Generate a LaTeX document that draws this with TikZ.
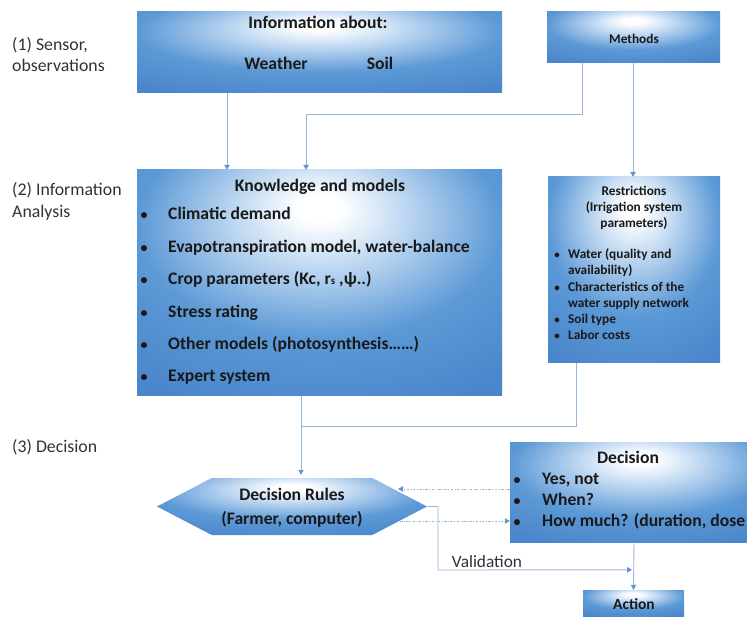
\documentclass[tikz,border=0pt]{standalone}
\usepackage{fontspec}
\setmainfont{Carlito}
\usetikzlibrary{arrows.meta,calc,shapes.symbols}
\definecolor{bblue}{RGB}{92,153,214}
\definecolor{bdark}{RGB}{74,134,203}
\definecolor{blight}{RGB}{196,219,243}
\definecolor{conncol}{RGB}{150,182,216}
\definecolor{tipcol}{RGB}{100,148,204}
\definecolor{txt}{RGB}{25,25,25}
\definecolor{lbl}{RGB}{50,50,50}
\pgfdeclareradialshading{boxshade}{\pgfpoint{0bp}{17bp}}{color(0bp)=(white); color(3bp)=(white); color(11bp)=(blight); color(25bp)=(bblue); color(40bp)=(bdark); color(100bp)=(bdark)}
\tikzset{
  box/.style={shade, shading=boxshade, draw=none, inner sep=0pt},
  conn/.style={draw=conncol, line width=0.9pt},
  arr/.style={conn, -{Triangle[width=5.5pt,length=5pt,color=tipcol,fill=tipcol]}},
  dotarr/.style={arr, dash pattern=on 2.5pt off 1.5pt on 0.8pt off 1.5pt},
  bigtxt/.style={font=\fontsize{17.6}{20}\selectfont\bfseries, text=txt, inner sep=0pt, text height=0.7em, text depth=0.2em, yshift=-4pt},
  smalltxt/.style={font=\fontsize{13.3}{16}\selectfont\bfseries, text=txt, inner sep=0pt, text height=0.7em, text depth=0.2em, yshift=-3pt},
  sidetxt/.style={font=\fontsize{17.8}{20}\selectfont, text=lbl, inner sep=0pt, anchor=west, text height=0.7em, text depth=0.2em, yshift=-3.5pt},
}
\begin{document}
\begin{tikzpicture}[x=1pt,y=-1pt]
\path[use as bounding box] (0,0) rectangle (747,617);
\clip (0,0) rectangle (747,617);
% boxes
\node[box, minimum width=365pt, minimum height=81pt] (info) at (319.5,52.5) {};
\node[box, minimum width=173pt, minimum height=51pt] (meth) at (633.5,37.5) {};
\node[box, minimum width=365pt, minimum height=226pt] (know) at (319.5,283) {};
\node[box, minimum width=172pt, minimum height=186pt] (restr) at (634,270) {};
\node[box, minimum width=260pt, minimum height=100pt] (dec) at (640,492) {};
\node[box, minimum width=101pt, minimum height=26pt] (act) at (633.5,603) {};
\node[box, signal, signal to=west and east, signal pointer angle=55, minimum width=270pt, minimum height=57pt] (rules) at (292,506.5) {};
% connectors
\coordinate (m1) at (582,114);
\coordinate (j1) at (576,426);
\coordinate (k1) at (301,426);
\draw[arr] ($(info.south)+(-92.5,0)$) -- ($(know.north)+(-92.5,0)$);
\draw[arr] ($(meth.south)+(-51.5,0)$) -- (m1) -| ($(know.north)+(-13.5,0)$);
\draw[arr] ($(meth.south)+(-0.5,0)$) -- ($(restr.north)+(-1,0)$);
\draw[arr] ($(know.south)+(-18.5,0)$) -- ($(rules.north)+(9,-3)$);
\draw[conn] (restr.south -| j1) -- (j1) -- (k1);
\draw[dotarr] ($(dec.west)+(0,-3)$) -- (398,489);
\draw[dotarr] (400,521) -- ($(dec.west)+(0,29)$);
\coordinate (v1) at (438,570);
\draw[arr] (rules.east) -| (v1) -- ($(act.north)+(-1.5,-20)$);
\draw[arr] ($(dec.south)+(-6,0)$) -- (act.north);
\node[sidetxt, anchor=center, font=\fontsize{17.3}{20}\selectfont] (valid) at (487,561) {Validation};
% texts: info
\node[bigtxt] (infot) at (318,22) {Information about:};
\node[bigtxt] (weather) at (276,63) {Weather};
\node[bigtxt] (soil) at (380,63) {Soil};
\node[smalltxt] (metht) at (634,38) {Methods};
% knowledge
\node[bigtxt] (knowt) at (320,185) {Knowledge and models};
\foreach \yy/\tt [count=\i] in {213/Climatic demand, 246/{Evapotranspiration model, water-balance}, 278/{Crop parameters (Kc, r{\fontsize{11}{11}\selectfont s} ,ψ..)}, 311/Stress rating, 343/{Other models (photosynthesis……)}, 375/Expert system}{
  \node[bigtxt, font=\fontsize{14}{16}\selectfont\bfseries] (kb\i) at (144,\yy) {•};
  \node[bigtxt, anchor=west] (kt\i) at (168,\yy) {\tt};
}
% restrictions
\node[smalltxt] (restrt1) at (634,190) {Restrictions};
\node[smalltxt] (restrt2) at (634,206) {(Irrigation system};
\node[smalltxt] (restrt3) at (634,222) {parameters)};
\foreach \yy [count=\i] in {253, 286, 318, 334}{
  \node[smalltxt, font=\fontsize{11}{13}\selectfont\bfseries] (rb\i) at (557,\yy) {•};
}
\foreach \yy/\tt [count=\i] in {253/{Water (quality and}, 269/{availability)}, 286/{Characteristics of the}, 302/{water supply network}, 318/Soil type, 334/Labor costs}{
  \node[smalltxt, anchor=west] (rt\i) at (568,\yy) {\tt};
}
% decision
\node[bigtxt] (dect) at (628,457) {Decision};
\foreach \yy/\tt [count=\i] in {478/{Yes, not}, 499/When?, 520/{How much? (duration, dose}}{
  \node[bigtxt, font=\fontsize{14}{16}\selectfont\bfseries] (db\i) at (517,\yy) {•};
  \node[bigtxt, anchor=west] (dt\i) at (542,\yy) {\tt};
}
% rules
\node[bigtxt] (rulest1) at (292,494) {Decision Rules};
\node[bigtxt] (rulest2) at (292,518) {(Farmer, computer)};
% action
\node[smalltxt, font=\fontsize{15.5}{18}\selectfont\bfseries] (actt) at (634,604) {Action};
% side labels
\node[sidetxt] (s1a) at (12,45) {(1) Sensor,};
\node[sidetxt] (s1b) at (12,66) {observations};
\node[sidetxt] (s2a) at (12,190) {(2) Information};
\node[sidetxt] (s2b) at (12,212) {Analysis};
\node[sidetxt] (s3) at (12,446) {(3) Decision};
\end{tikzpicture}
\end{document}
